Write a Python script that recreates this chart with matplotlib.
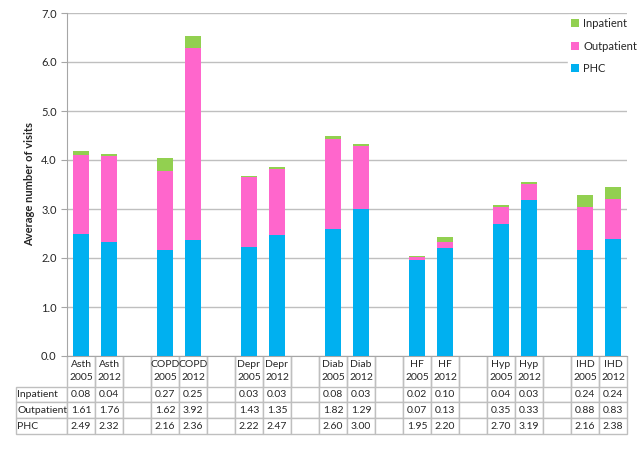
import numpy as np
import matplotlib
matplotlib.use("Agg")
import matplotlib.pyplot as plt

plt.rcParams['font.family'] = ['Lato', 'DejaVu Sans']

groups = ["Asth", "COPD", "Depr", "Diab", "HF", "Hyp", "IHD"]
years = ["2005", "2012"]

inpatient = [0.08, 0.04, 0.27, 0.25, 0.03, 0.03, 0.08, 0.03, 0.02, 0.10, 0.04, 0.03, 0.24, 0.24]
outpatient = [1.61, 1.76, 1.62, 3.92, 1.43, 1.35, 1.82, 1.29, 0.07, 0.13, 0.35, 0.33, 0.88, 0.83]
phc = [2.49, 2.32, 2.16, 2.36, 2.22, 2.47, 2.60, 3.00, 1.95, 2.20, 2.70, 3.19, 2.16, 2.38]

c_in = "#92D050"
c_out = "#FF66CC"
c_phc = "#00B0F0"
grid_c = "#BFBFBF"
text_c = "#262626"

# bar positions: two bars per group, one empty column between groups
pos = []
for g in range(len(groups)):
    pos += [3 * g, 3 * g + 1]
pos = np.array(pos)
ncols = 3 * len(groups) - 1

inpatient = np.array(inpatient)
outpatient = np.array(outpatient)
phc = np.array(phc)

fig = plt.figure(figsize=(6.4, 4.53), dpi=100)
L, R, B, T = 67, 627, 356, 13
ax = fig.add_axes([L / 640, 1 - B / 453, (R - L) / 640, (B - T) / 453])

w = 0.54
ax.bar(pos, phc, w, color=c_phc, label="PHC", zorder=3)
ax.bar(pos, outpatient, w, bottom=phc, color=c_out, label="Outpatient", zorder=3)
ax.bar(pos, inpatient, w, bottom=phc + outpatient, color=c_in, label="Inpatient", zorder=3)

ax.set_xlim(-0.5, ncols - 0.5)
ax.set_ylim(0, 7)
ax.set_yticks(np.arange(0, 7.1, 1))
ax.set_yticklabels([f"{v:.1f}" for v in np.arange(0, 7.1, 1)], fontsize=8, color=text_c)
ax.set_xticks([])
ax.yaxis.grid(True, color=grid_c, linewidth=1, zorder=0)
ax.set_axisbelow(True)
for s in ["top", "right"]:
    ax.spines[s].set_visible(False)
for s in ["left", "bottom"]:
    ax.spines[s].set_color("#A6A6A6")
ax.tick_params(axis="y", length=4, color="#A6A6A6", pad=3.5)
ax.set_ylabel("Average number of visits", fontsize=8, fontweight="bold", color=text_c)
ax.yaxis.set_label_coords(-0.057, 0.5)

# data table under the axis
header = [""]
rows_in, rows_out, rows_phc = ["Inpatient"], ["Outpatient"], ["PHC"]
k = 0
for c in range(ncols):
    if c % 3 == 2:
        header.append("")
        rows_in.append("")
        rows_out.append("")
        rows_phc.append("")
    else:
        header.append(f"{groups[c // 3]}\n{years[c % 3]}")
        rows_in.append(f"{inpatient[k]:.2f}")
        rows_out.append(f"{outpatient[k]:.2f}")
        rows_phc.append(f"{phc[k]:.2f}")
        k += 1
cells = [header, rows_in, rows_out, rows_phc]

tx0 = 16
tbl = ax.table(cellText=cells, cellLoc="center",
               bbox=[(tx0 - L) / (R - L), -(434 - B) / (B - T), (R - tx0) / (R - L), (434 - B) / (B - T)])
tbl.auto_set_font_size(False)
heights = [31, 16, 16, 16]
for (r, c), cell in tbl.get_celld().items():
    cell.set_width(51 if c == 0 else 28)
    cell.set_height(heights[r])
    cell.set_edgecolor(grid_c)
    cell.set_linewidth(1)
    cell.get_text().set_fontsize(7.5)
    cell.get_text().set_color(text_c)
    if r == 0:
        cell.visible_edges = "" if c == 0 else "LR"
        cell.get_text().set_linespacing(1.55)
    if c == 0:
        cell.get_text().set_horizontalalignment("left")
        cell.PAD = 0.02

ax.legend(loc="upper left", bbox_to_anchor=(562 / 640, 1 - 9 / 453), bbox_transform=fig.transFigure,
          frameon=True, fancybox=False, edgecolor="white", framealpha=1, fontsize=8,
          handlelength=0.7, handleheight=0.7, handletextpad=0.4, labelspacing=1.05,
          borderpad=0.3, reverse=True, labelcolor=text_c)

fig.savefig("out.png", dpi=100)
